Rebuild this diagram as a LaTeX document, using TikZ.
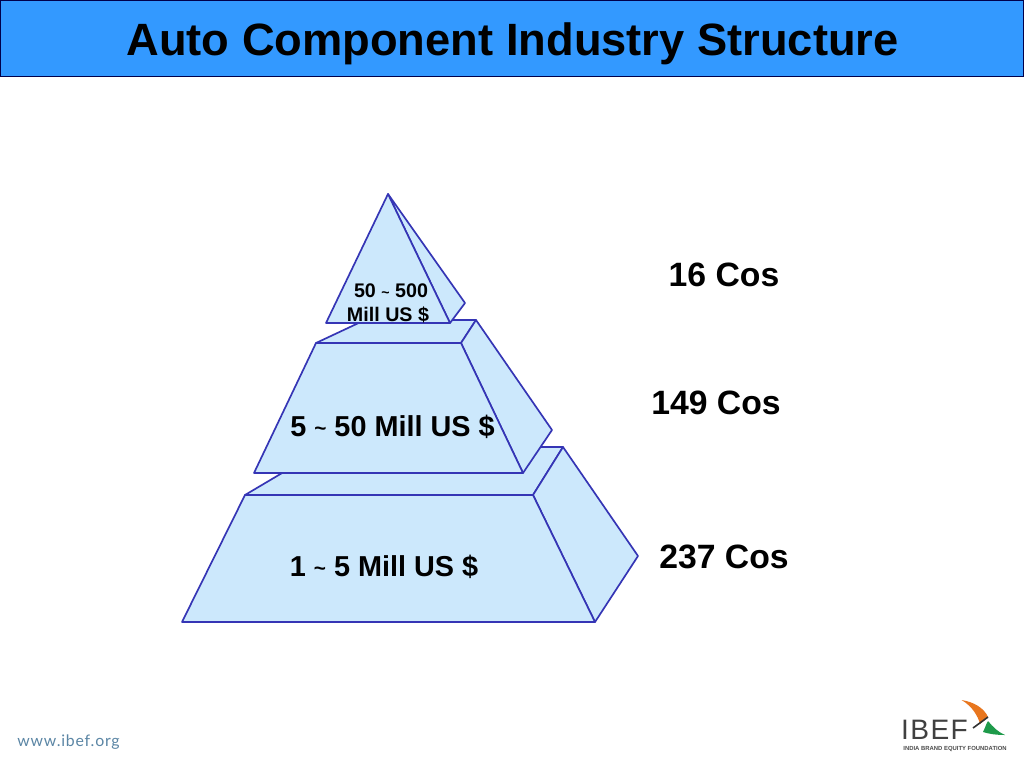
\documentclass[tikz,border=0pt]{standalone}
\usepackage{fontspec}
\usepackage{graphicx}
\setmainfont{Liberation Sans}
\newfontfamily\webfont[LetterSpace=5]{Lato}
\newcommand{\smalltilde}{\raisebox{0.02em}{\scalebox{0.72}{\textasciitilde}}}
\tikzset{
	face/.style={draw=facedge, fill=faceblue, line width=0.42mm, line join=round},
	cosnote/.style={font=\bfseries\fontsize{24}{28}\selectfont, inner sep=0pt},
	tier/.style={font=\bfseries\fontsize{20.5}{24}\selectfont, inner sep=0pt},
	toptier/.style={font=\bfseries\fontsize{14}{17}\selectfont, inner sep=0pt},
}
\definecolor{facedge}{HTML}{3535B5}
\definecolor{faceblue}{HTML}{CCE8FC}
\definecolor{banner}{HTML}{3399FF}
\definecolor{webblue}{HTML}{5B86A5}
\definecolor{wingorange}{HTML}{E8761E}
\definecolor{winggreen}{HTML}{1E9A4A}
\begin{document}
\begin{tikzpicture}[x=0.25mm, y=-0.25mm]
	%%%%% START %%%%%
	\useasboundingbox (0, 0) rectangle (1024, 768);
	\fill[white] (0, 0) rectangle (1024, 768);

	\draw[fill=banner, draw=black!70!blue, line width=0.25mm] (0.5, 0.5) rectangle (1023.5, 76.5);
	\node[font=\bfseries\fontsize{32.2}{36}\selectfont, inner sep=0pt] (title) at (512.5, 44) {Auto Component Industry Structure};

	% bottom tier
	\draw[face] (245, 495) -- (326, 447) -- (563, 447) -- (533, 495) -- cycle;
	\draw[face] (533, 495) -- (563, 447) -- (638, 556) -- (595, 622) -- cycle;
	\draw[face] (245, 495) -- (533, 495) -- (595, 622) -- (182, 622) -- cycle;

	% middle tier
	\draw[face] (316, 343) -- (365, 320) -- (476, 320) -- (461, 343) -- cycle;
	\draw[face] (461, 343) -- (476, 320) -- (552, 430) -- (523, 473) -- cycle;
	\draw[face] (316, 343) -- (461, 343) -- (523, 473) -- (254, 473) -- cycle;

	% top tier
	\draw[face] (388, 194) -- (465, 303) -- (450, 323) -- cycle;
	\draw[face] (388, 194) -- (450, 323) -- (326, 323) -- cycle;

	\node[toptier] (topa) at (391, 291) {50 \smalltilde{} 500};
	\node[toptier] (topb) at (388, 315) {Mill US \$};
	\node[tier] (midtier) at (392.5, 426.5) {5 \smalltilde{} 50 Mill US \$};
	\node[tier] (lowtier) at (384, 566.5) {1 \smalltilde{} 5 Mill US \$};

	\node[cosnote] (topcos) at (724, 274.5) {16 Cos};
	\node[cosnote] (midcos) at (716, 402.5) {149 Cos};
	\node[cosnote] (lowcos) at (724, 556.5) {237 Cos};

	% footer
	\node[font=\webfont\fontsize{11.3}{14}\selectfont, text=webblue, inner sep=0pt] (web) at (68.5, 742) {www.ibef.org};

	% logo
	\fill[wingorange] (961.5, 700) .. controls (974, 702) and (984, 708) .. (988, 717) -- (980, 724) .. controls (978, 716) and (972, 706) .. cycle;
	\fill[winggreen] (988, 721) .. controls (993, 727) and (998, 732) .. (1005, 735) .. controls (997, 735) and (989, 734) .. (983, 732) .. controls (985, 729) and (985, 726) .. cycle;
	\draw[black!80, line width=0.4mm] (973, 728) -- (988, 717);
	\node[font=\fontsize{20}{24}\selectfont\addfontfeature{LetterSpace=5}, text=black!75, inner sep=0pt] (logo) at (934.5, 730) {IBEF};
	\node[font=\bfseries\fontsize{4.2}{5}\selectfont, text=black!70, inner sep=0pt] (logotext) at (955, 749) {INDIA BRAND EQUITY FOUNDATION};
	%%%%% END %%%%%
\end{tikzpicture}
\end{document}
